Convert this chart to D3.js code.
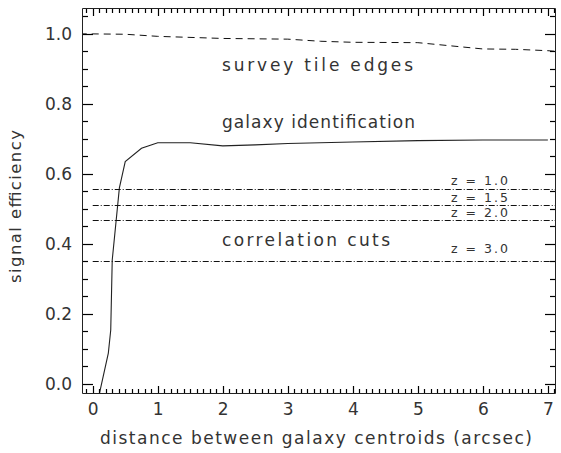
<!DOCTYPE html>
<html><head><meta charset="utf-8">
<script src="https://cdn.jsdelivr.net/npm/d3@7"></script>
<style>
html,body{margin:0;padding:0;background:#fff;}
svg{display:block;}
text{font-family:"DejaVu Sans",sans-serif;fill:#333;}
</style></head>
<body>
<script>
// ---- data ----
const xTickValues = [0, 1, 2, 3, 4, 5, 6, 7];
const yTickValues = [0.0, 0.2, 0.4, 0.6, 0.8, 1.0];
const tileX = [-0.2, 0, 0.5, 1, 2, 3, 3.5, 4, 5, 5.5, 6, 6.5, 7, 7.2];
const tileY = [1.0, 1.0, 0.999, 0.993, 0.987, 0.985, 0.979, 0.976, 0.975, 0.966, 0.957, 0.956, 0.952, 0.949];
const galX = [0.1, 0.24, 0.277, 0.30, 0.41, 0.50, 0.75, 1.0, 1.5, 2.0, 2.5, 3, 4, 5, 6, 7];
const galY = [-0.03, 0.088, 0.154, 0.354, 0.56, 0.635, 0.673, 0.689, 0.689, 0.680, 0.683, 0.687, 0.691, 0.695, 0.697, 0.697];
const cutLabels = ["z = 1.0", "z = 1.5", "z = 2.0", "z = 3.0"];
const cutValues = [0.558, 0.510, 0.468, 0.351];
const cutLabelAt = [0.567, 0.520, 0.477, 0.373];
const cutStart = 0;
const annotations = ["survey tile edges", "galaxy identification", "correlation cuts"];
const annotationAt = [0.895, 0.732, 0.395];
const xLabel = "distance between galaxy centroids (arcsec)";
const yLabel = "signal efficiency";

// ---- layout ----
const W = 561, H = 453;
const L = 82, R = 555, T = 8, B = 393;
const x = d3.scaleLinear().domain([-0.165, 7.11]).range([L, R]);
const y = d3.scaleLinear().domain([-0.026, 1.074]).range([B, T]);
const px = v => Math.round(x(v)) + 0.5;
const py = v => Math.round(y(v)) + 0.5;

const svg = d3.select("body").append("svg").attr("width", W).attr("height", H);

svg.append("defs").append("clipPath").attr("id", "plotclip")
  .append("rect").attr("x", L).attr("y", T).attr("width", R - L + 1).attr("height", B - T);

const plot = svg.append("g").attr("clip-path", "url(#plotclip)");
const line = d3.line().x(d => x(d[0])).y(d => y(d[1]));

// survey tile edges
plot.append("path").datum(tileX.map((v, i) => [v, tileY[i]]))
  .attr("d", line).attr("fill", "none").attr("stroke", "#111").attr("stroke-width", 1)
  .attr("stroke-dasharray", "7,5");

// galaxy identification
plot.append("path").datum(galX.map((v, i) => [v, galY[i]]))
  .attr("d", line).attr("fill", "none").attr("stroke", "#222").attr("stroke-width", 1.1);

// correlation cuts
plot.selectAll(".cut").data(cutValues).enter().append("path")
  .attr("d", d => `M${x(cutStart)},${py(d)}H${R}`)
  .attr("fill", "none").attr("stroke", "#111").attr("stroke-width", 1).attr("stroke-dasharray", "6,2,1,2");

// ---- frame ----
svg.append("path").attr("d", `M${L + 0.5},${T + 0.5}H${R + 0.5}V${B + 0.5}H${L + 0.5}Z`)
  .attr("fill", "none").attr("stroke", "#222").attr("stroke-width", 1);

// ---- tick labels via d3 axis ----
function labelAxis(gen, tx, ty) {
  const g = svg.append("g").attr("transform", `translate(${tx},${ty})`).call(gen);
  g.select(".domain").remove();
  g.selectAll("line").remove();
  g.selectAll("text").attr("font-size", 17).attr("fill", "#333").attr("font-family", "DejaVu Sans");
  return g;
}
labelAxis(d3.axisBottom(x).tickValues(xTickValues).tickSize(0).tickPadding(10).tickFormat(d3.format("d")), 0, B);
labelAxis(d3.axisLeft(y).tickValues(yTickValues).tickSize(0).tickPadding(10).tickFormat(d3.format(".1f")), L, 0);

// annotations
const annWidths = [191, 193, 168];
annotations.forEach((t, i) => {
  svg.append("text").attr("x", 222).attr("y", y(annotationAt[i]))
    .attr("font-size", 17).attr("textLength", annWidths[i]).attr("lengthAdjust", "spacing").text(t);
});
cutLabels.forEach((t, i) => {
  svg.append("text").attr("x", 451).attr("y", y(cutLabelAt[i]))
    .attr("font-size", 12.5).attr("textLength", 57).attr("lengthAdjust", "spacing").text(t);
});

// axis titles
svg.append("text").attr("x", 100).attr("y", 444)
  .attr("font-size", 17).attr("textLength", 432).attr("lengthAdjust", "spacing").text(xLabel);
svg.append("text").attr("transform", `translate(21,283) rotate(-90)`)
  .attr("font-size", 16.5).attr("textLength", 153).attr("lengthAdjust", "spacing").text(yLabel);

// ---- tick marks, drawn last, positioned by the scales ----
const xMinor = d3.range(-0.1, 7.11, 0.1).filter(v => Math.abs(v - Math.round(v)) > 1e-6);
const yMinor = d3.range(0, 1.074, 0.05).filter(v => Math.abs(v * 5 - Math.round(v * 5)) > 1e-6);
const tickG = svg.append("g").attr("stroke", "#000").attr("stroke-width", 1.2).attr("fill", "none");
xTickValues.forEach(v => {
  tickG.append("line").attr("x1", px(v)).attr("x2", px(v)).attr("y1", B).attr("y2", B - 7);
  tickG.append("line").attr("x1", px(v)).attr("x2", px(v)).attr("y1", T + 1).attr("y2", T + 8);
});
xMinor.forEach(v => {
  tickG.append("line").attr("x1", px(v)).attr("x2", px(v)).attr("y1", B).attr("y2", B - 4);
  tickG.append("line").attr("x1", px(v)).attr("x2", px(v)).attr("y1", T + 1).attr("y2", T + 5);
});
yTickValues.forEach(v => {
  tickG.append("line").attr("x1", L + 1).attr("x2", L + 11).attr("y1", py(v)).attr("y2", py(v));
  tickG.append("line").attr("x1", R).attr("x2", R - 10).attr("y1", py(v)).attr("y2", py(v));
});
yMinor.forEach(v => {
  tickG.append("line").attr("x1", L + 1).attr("x2", L + 6).attr("y1", py(v)).attr("y2", py(v));
  tickG.append("line").attr("x1", R).attr("x2", R - 5).attr("y1", py(v)).attr("y2", py(v));
});
</script>
</body></html>
